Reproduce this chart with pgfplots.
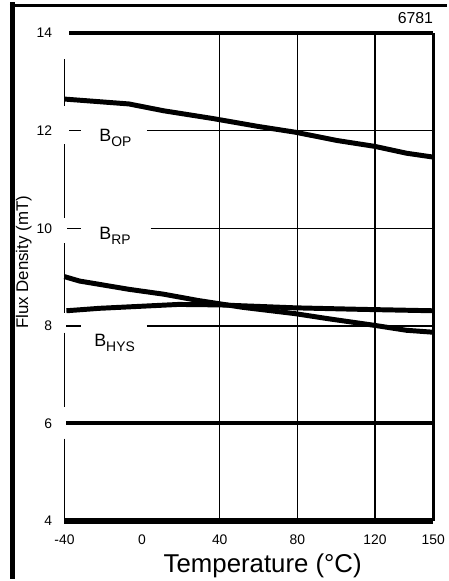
\documentclass[border=0pt]{standalone}
\usepackage{fontspec}
\setmainfont{Liberation Sans}
\usepackage{pgfplots}
\pgfplotsset{compat=1.18}

\newcommand{\sub}[1]{\raisebox{-5pt}{\fontsize{14}{14}\selectfont #1}}

\begin{document}
\begin{tikzpicture}
\begin{axis}[
    name=ax,
    scale only axis,
    width=372pt, height=492pt,
    xmin=-40, xmax=150, ymin=4, ymax=14,
    clip=false,
    axis line style={draw=none},
    major tick length=0pt,
    xtick={-40,0,40,80,120,150},
    xticklabels={-40,0,40,80,120,150},
    ytick={4,6,8,10,12,14},
    yticklabels={4,6,8,10,12,14},
    tick label style={font=\fontsize{14}{14}\selectfont},
    xticklabel style={yshift=-10pt},
    yticklabel style={xshift=-9pt},
    xlabel={Temperature (°C)},
    ylabel={Flux Density (mT)},
    xlabel style={at={(axis description cs:0.5376,-0.0915)}, anchor=center,
      font=\fontsize{26}{26}\selectfont},
    ylabel style={at={(axis description cs:-0.110,0.53)}, anchor=center,
      font=\fontsize{17}{17}\selectfont},
  ]
  % grid, drawn in pieces like the scan
  \draw[line width=4pt] (-37.4,14) -- (150,14);
  \draw[line width=1.2pt] (-37.4,12) -- (-31.3,12) (2.4,12) -- (150,12);
  \draw[line width=1.2pt] (-38.5,10) -- (-31.3,10) (4.4,10) -- (150,10);
  \draw[line width=1.6pt] (-39,8) -- (-31.3,8) (2.4,8) -- (150,8);
  \draw[line width=4pt] (-39,6) -- (150,6);
  \draw[line width=1.2pt] (40,4) -- (40,14) (80,4) -- (80,14);
  \draw[line width=2.2pt] (120,4) -- (120,14);
  \draw[line width=2.6pt] (150,4) -- (150,14);
  \draw[line width=1.2pt] (-40,13.47) -- (-40,12.50) (-40,11.72) -- (-40,10.22)
    (-40,9.69) -- (-40,8.27) (-40,7.86) -- (-40,6.34) (-40,5.69) -- (-40,4);
  \draw[line width=7pt] (-40,4) -- (150,4);

  % B_OP
  \addplot[black, line width=5pt] coordinates {
    (-40,12.65) (-6.8,12.55) (11.1,12.41) (36.6,12.25) (59.6,12.09)
    (79,11.97) (100.5,11.80) (119.9,11.68) (136.2,11.54) (150,11.46)
  };
  % B_RP
  \addplot[black, line width=5pt] coordinates {
    (-40,9.01) (-32.3,8.92) (-6.8,8.75) (11.1,8.65) (29.0,8.52) (51.9,8.38)
    (79.0,8.25) (95.4,8.15) (119.9,8.01) (136.2,7.91) (150,7.87)
  };
  % B_HYS
  \addplot[black, line width=5pt] coordinates {
    (-39,8.31) (-22.1,8.36) (-1.7,8.40) (18.7,8.44) (40.2,8.43) (59.6,8.40)
    (79.0,8.37) (111.7,8.34) (150,8.31)
  };

  \node[anchor=base west, inner sep=0, font=\fontsize{18}{18}\selectfont]
    at (-22.1,11.785) {B\sub{OP}};
  \node[anchor=base west, inner sep=0, font=\fontsize{18}{18}\selectfont]
    at (-22.1,9.762) {B\sub{RP}};
  \node[anchor=base west, inner sep=0, font=\fontsize{18}{18}\selectfont]
    at (-24.7,7.577) {B\sub{HYS}};
  \node[anchor=east, inner sep=0, font=\fontsize{16}{16}\selectfont]
    at (axis description cs:1,1.0305) {6781};
\end{axis}

\coordinate (O) at ([xshift=-65pt, yshift=523pt]ax.south west);
\begin{scope}[shift={(O)}, x=1pt, y=-1pt]
  \path (0,0) rectangle (451,581);
  \draw[line width=5pt] (12.5,0) -- (12.5,581);
  \draw[line width=2.5pt] (10,3) -- (451,3);
\end{scope}
\end{tikzpicture}
\end{document}
